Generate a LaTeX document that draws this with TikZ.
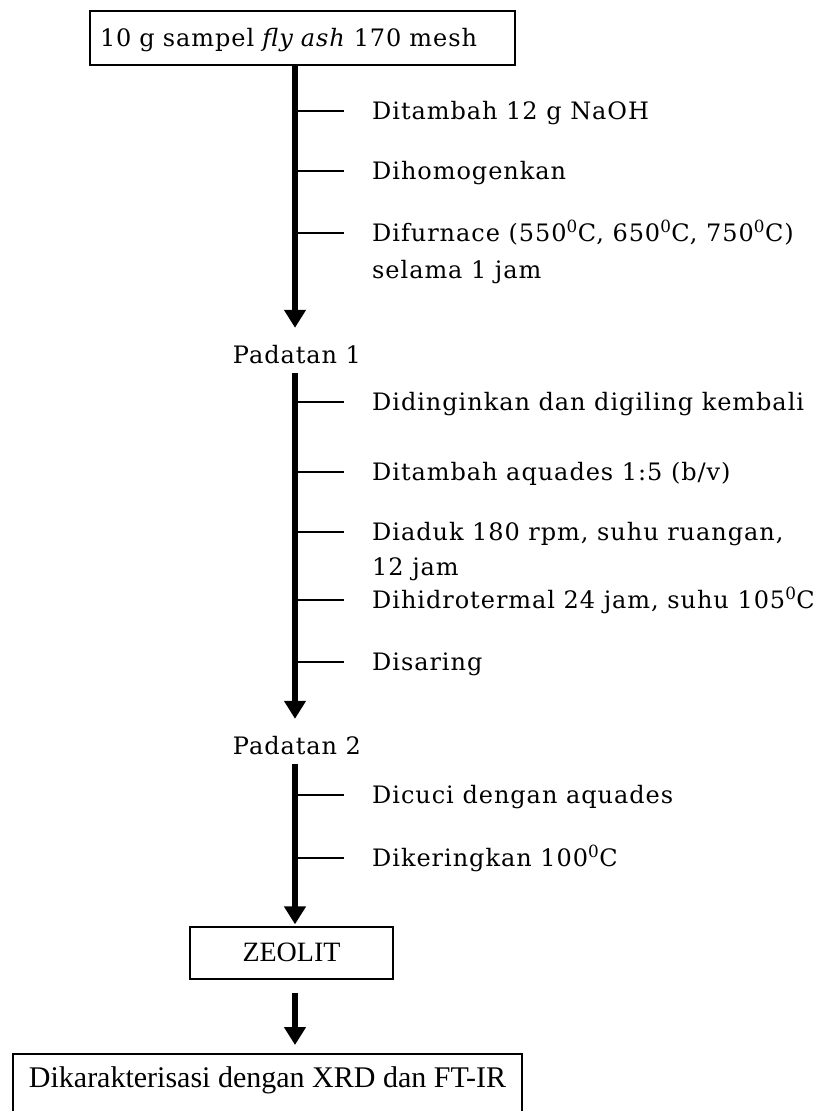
\documentclass[tikz,border=0pt]{standalone}
\usepackage{fontspec}
\newfontfamily\stepfont[LetterSpace=4]{DejaVu Serif}
\newfontfamily\timesfont{Liberation Serif}
\usetikzlibrary{arrows.meta}
\tikzset{
  stepfnt/.style={font=\stepfont\fontsize{24}{28}\selectfont},
  timesfnt/.style={font=\timesfont\fontsize{28}{32}\selectfont},
  bigtimes/.style={font=\timesfont\fontsize{30}{34}\selectfont},
  boxnode/.style={draw, line width=1.3pt, inner sep=0pt, text height=17pt, text depth=0pt},
  steplbl/.style={stepfnt, anchor=west, inner sep=0pt, text height=17pt, text depth=0pt},
  padlbl/.style={stepfnt, anchor=base, inner sep=0pt, text height=17pt, text depth=0pt},
  mainline/.style={line width=6pt, -{Triangle[width=21pt,length=18pt]}},
  tickline/.style={line width=1.3pt},
}
\begin{document}
\begin{tikzpicture}[x=1pt,y=-1pt]
\useasboundingbox (0,0) rectangle (832,1111);
\clip (0,0) rectangle (832,1111);
\coordinate (spine) at (295,0);

% top box
\node[boxnode, stepfnt, text width=405pt, align=left, inner xsep=10pt, minimum height=54pt] (top) at (302.5,38) {10 g sampel \textit{fly ash} 170 mesh};

% segment 1
\node[steplbl] (s1) at (372,111) {Ditambah 12 g NaOH};
\node[steplbl] (s2) at (372,171) {Dihomogenkan};
\node[steplbl] (s3) at (372,233) {Difurnace (550\textsuperscript{0}C, 650\textsuperscript{0}C, 750\textsuperscript{0}C)};
\node[steplbl] (s3b) at (372,270) {selama 1 jam};
\node[padlbl] (p1) at (297,363) {Padatan 1};
\draw[mainline] (top.south -| spine) -- ([yshift=18pt]p1.north -| spine);
\foreach \n in {s1,s2,s3} \draw[tickline] (\n.west -| spine) -- ([xshift=-28pt]\n.west);

% segment 2
\node[steplbl] (s4) at (372,402) {Didinginkan dan digiling kembali};
\node[steplbl] (s5) at (372,472) {Ditambah aquades 1:5 (b/v)};
\node[steplbl] (s6) at (372,532) {Diaduk 180 rpm, suhu ruangan,};
\node[steplbl] (s6b) at (372,567) {12 jam};
\node[steplbl] (s7) at (372,600) {Dihidrotermal 24 jam, suhu 105\textsuperscript{0}C};
\node[steplbl] (s8) at (372,662) {Disaring};
\node[padlbl] (p2) at (297,754) {Padatan 2};
\draw[mainline] ([yshift=-10pt]p1.base -| spine) -- ([yshift=18pt]p2.north -| spine);
\foreach \n in {s4,s5,s6,s7,s8} \draw[tickline] (\n.west -| spine) -- ([xshift=-28pt]\n.west);

% segment 3
\node[steplbl] (s9) at (372,795) {Dicuci dengan aquades};
\node[steplbl] (s10) at (372,858) {Dikeringkan 100\textsuperscript{0}C};
\node[boxnode, timesfnt, minimum width=203pt, minimum height=52pt] (zeo) at (291.5,953) {ZEOLIT};
\draw[mainline] ([yshift=-10pt]p2.base -| spine) -- ([yshift=2pt]zeo.north -| spine);
\foreach \n in {s9,s10} \draw[tickline] (\n.west -| spine) -- ([xshift=-28pt]\n.west);

% final box
\node[draw, line width=1.5pt, bigtimes, inner sep=0pt, minimum width=509pt, text height=34pt, text depth=66pt, anchor=north] (final) at (267.5,1053) {Dikarakterisasi dengan XRD dan FT-IR};
\draw[mainline] ([yshift=-13pt]zeo.south -| spine) -- ([yshift=8pt]final.north -| spine);
\end{tikzpicture}
\end{document}
